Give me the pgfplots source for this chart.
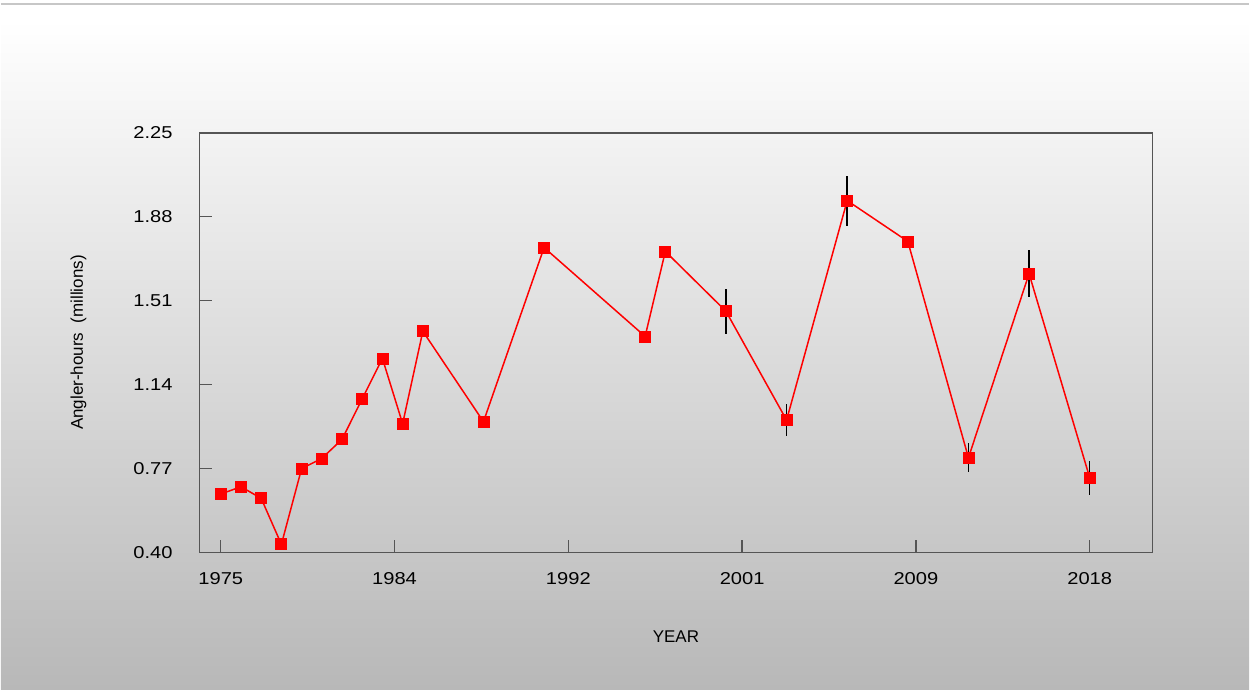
\documentclass[border=0pt]{standalone}
\usepackage{fontspec}
\setmainfont{Liberation Sans}
\newfontfamily\tickfont[FakeStretch=1.17]{Liberation Sans}
\usepackage{pgfplots}
\pgfplotsset{compat=1.18}
\usetikzlibrary{shadings}

\definecolor{bgbot}{RGB}{184,184,184}
\definecolor{frame}{RGB}{85,85,85}

\begin{document}
\begin{tikzpicture}
% page background, 1px = 0.5pt
\fill[white] (0,0) rectangle (625pt,345pt);
\shade[top color=white, bottom color=bgbot] (0,0) rectangle (625pt,335pt);
\draw[black!22, line width=0.8pt] (0,343pt) -- (625pt,343pt);

\begin{axis}[
  scale only axis,
  width=477pt, height=210pt,
  at={(99.5pt,68.5pt)}, anchor=south west,
  xmin=1973.95, xmax=2021.1,
  ymin=0.40, ymax=2.25,
  xtick={1975,1983.6,1992.2,2000.8,2009.4,2018},
  xticklabels={1975,1984,1992,2001,2009,2018},
  ytick={0.40,0.77,1.14,1.51,1.88,2.25},
  yticklabels={0.40,0.77,1.14,1.51,1.88,2.25},
  tick pos=left, tick align=inside,
  major tick length=6pt,
  axis line style={draw=frame, line width=0.7pt},
  tick style={draw=frame, line width=0.7pt},
  ticklabel style={font=\tickfont\fontsize{8.6}{10}\selectfont},
  yticklabel style={xshift=-10pt},
  xticklabel style={yshift=-6.5pt},
  /pgf/number format/assume math mode=true,
  xlabel={YEAR},
  ylabel={Angler-hours\ \ (millions)},
  label style={font=\fontsize{8.5}{10}\selectfont},
  xlabel style={at={(axis description cs:0.5,-0.2)}, anchor=center},
  ylabel style={at={(axis description cs:-0.127,0.5)}, anchor=center},
]

% error bars
\addplot[forget plot, draw=none, mark=none,
  error bars/.cd, y dir=both, y explicit,
  error mark=none,
  error bar style={draw=black, line width=0.8pt}]
coordinates {
  (2000, 1.463) +- (0, 0.10)
  (2003, 0.983) +- (0, 0.07)
  (2006, 1.951) +- (0, 0.11)
  (2012, 0.817) +- (0, 0.065)
  (2015, 1.629) +- (0, 0.105)
  (2018, 0.729) +- (0, 0.075)
};

\addplot[color=red, line width=0.75pt, mark=square*,
  mark size=2.75pt, mark options={fill=red, draw=red, solid, line width=0.4pt}]
coordinates {
  (1975, 0.657) (1976, 0.689) (1977, 0.638) (1978, 0.435)
  (1979, 0.769) (1980, 0.814) (1981, 0.898) (1982, 1.077)
  (1983, 1.255) (1984, 0.967) (1985, 1.375) (1988, 0.976)
  (1991, 1.744) (1996, 1.352) (1997, 1.727) (2000, 1.463)
  (2003, 0.983) (2006, 1.951) (2009, 1.771) (2012, 0.817)
  (2015, 1.629) (2018, 0.729)
};

\end{axis}
\end{tikzpicture}
\end{document}
